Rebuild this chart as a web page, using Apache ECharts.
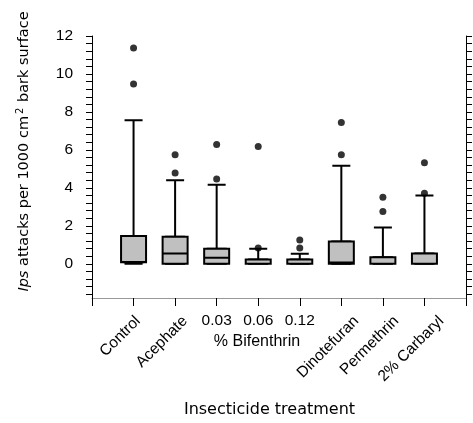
<!DOCTYPE html>
<html><head><meta charset="utf-8">
<script src="https://cdn.jsdelivr.net/npm/echarts@6/dist/echarts.min.js"></script>
<style>html,body{margin:0;padding:0;background:#fff}#c{width:473px;height:423px}</style>
</head><body><div id="c"></div>
<script>
// ---- data ----
const categories = ['Control','Acephate','0.03','0.06','0.12','Dinotefuran','Permethrin','2% Carbaryl'];
const rotatedLabels = ['Control','Acephate','','','','Dinotefuran','Permethrin','2% Carbaryl'];
const doseLabels = ['','','0.03','0.06','0.12','','',''];
const whiskerMin = [0, 0, 0, 0, 0, 0, 0, 0];
const q1 =         [0.08, 0, 0, 0, 0, 0, 0, 0];
const medians =    [0.1, 0.54, 0.32, 0, 0, 0.07, 0, 0];
const q3 =         [1.46, 1.42, 0.79, 0.23, 0.23, 1.18, 0.35, 0.54];
const whiskerMax = [7.56, 4.40, 4.16, 0.79, 0.53, 5.16, 1.91, 3.60];
const outliers = [[11.37, 9.47], [5.75, 4.79], [6.28, 4.47], [6.18, 0.84], [1.26, 0.84], [7.44, 5.74], [3.51, 2.75], [5.32, 3.72]];
const yTickLabels = [0, 2, 4, 6, 8, 10, 12];
const yTicks = [-1.6,-1.2,-0.8,-0.4,0,0.4,0.8,1.2,1.6,2,2.4,2.8,3.2,3.6,4,4.4,4.8,5.2,5.6,6,6.4,6.8,7.2,7.6,8,8.4,8.8,9.2,9.6,10,10.4,10.8,11.2,11.6,12];
const yMin = -1.8, yMax = 12;
const xMin = 0, xMax = 9;

// ---- build ----
const whiskerData = categories.map((c, i) => [i + 1, whiskerMin[i], q1[i], medians[i], q3[i], whiskerMax[i]]);
const boxData = categories.map((c, i) => [i + 1, q1[i], q1[i], medians[i], q3[i], q3[i]]);
const outlierData = [];
outliers.forEach((arr, i) => arr.forEach(v => outlierData.push([i + 1, v])));

const FONT = 'Liberation Sans';
const LABEL_SIZE = 15.5;

// Rotated labels: the bounding box of each rotated label is centred a little left of its tick
// and its top sits at a fixed distance under the axis line (as in the reference figure).
const ROT_MARGIN = 20;       // anchor distance below axis line
const BOX_TOP = 16.5;        // top of rotated label bounding box below axis line
const CENTER_DX = -13.3;     // horizontal offset of label box centre from tick
const INK_H = 12;
const ctx = document.createElement('canvas').getContext('2d');
ctx.font = LABEL_SIZE + 'px "' + FONT + '"';
const rich = {};
rotatedLabels.forEach((lab, i) => {
  if (!lab) return;
  const L = ctx.measureText(lab).width;
  const dy = BOX_TOP + 0.3536 * (L + INK_H) - ROT_MARGIN;
  const dx = CENTER_DX;
  const u = (dx - dy) / Math.SQRT2;   // along text direction
  const v = (dx + dy) / Math.SQRT2;   // perpendicular (text "down")
  const pad = [v > 0 ? 2 * v : 0, u < 0 ? -2 * u : 0, v < 0 ? -2 * v : 0, u > 0 ? 2 * u : 0];
  rich['r' + i] = {fontFamily: FONT, fontSize: LABEL_SIZE, color: '#000', padding: pad};
});

const chart = echarts.init(document.getElementById('c'), null, {renderer: 'canvas'});
chart.setOption({
  animation: false,
  backgroundColor: '#fff',
  grid: {left: 92, right: 7, top: 36, bottom: 124, containLabel: false},
  xAxis: [{
    type: 'value', min: xMin, max: xMax, interval: 1, position: 'bottom',
    axisLine: {show: true, onZero: false, lineStyle: {color: '#999', width: 1}},
    axisTick: {show: true, inside: false, length: 8, lineStyle: {color: '#000', width: 1}},
    splitLine: {show: false},
    axisLabel: {
      rotate: 45, margin: ROT_MARGIN, align: 'center', verticalAlign: 'middle',
      color: '#000', fontFamily: FONT, fontSize: LABEL_SIZE, rich: rich,
      formatter: v => rotatedLabels[v - 1] ? '{r' + (v - 1) + '|' + rotatedLabels[v - 1] + '}' : ''
    },
    name: 'Insecticide treatment', nameLocation: 'middle', nameGap: 104,
    nameTextStyle: {fontFamily: 'DejaVu Sans', fontSize: 16, color: '#000', padding: [0, 19, 0, 0]}
  }, {
    type: 'value', min: xMin, max: xMax, interval: 1, position: 'bottom',
    axisLine: {show: false, onZero: false}, axisTick: {show: false}, splitLine: {show: false},
    axisLabel: {margin: 15, color: '#000', fontFamily: FONT, fontSize: LABEL_SIZE,
      formatter: v => doseLabels[v - 1] || ''},
    name: '% Bifenthrin', nameLocation: 'middle', nameGap: 36,
    nameTextStyle: {fontFamily: FONT, fontSize: 16, color: '#000', padding: [0, 44, 0, 0]}
  }],
  yAxis: [{
    type: 'value', min: yMin, max: yMax, position: 'left',
    axisLine: {show: true, onZero: false, lineStyle: {color: '#000', width: 1}},
    axisTick: {show: true, inside: false, length: 6, customValues: yTicks, lineStyle: {color: '#000'}},
    splitLine: {show: false},
    axisLabel: {customValues: yTickLabels, margin: 19, color: '#000', fontFamily: FONT, fontSize: LABEL_SIZE},
    name: '{i|Ips} attacks per 1000 cm{s|2} bark surface',
    nameLocation: 'middle', nameGap: 59,
    nameTextStyle: {fontFamily: 'DejaVu Sans', fontSize: 14.5, color: '#000', lineHeight: 18, padding: [0, 0, 0, 31],
      rich: {
        i: {fontFamily: 'DejaVu Sans', fontSize: 14.5, fontStyle: 'italic', color: '#000', lineHeight: 18},
        s: {fontFamily: 'DejaVu Sans', fontSize: 10, color: '#000', verticalAlign: 'top', lineHeight: 18, padding: [0, 1, 0, 2]}
      }}
  }, {
    type: 'value', min: yMin, max: yMax, position: 'right',
    axisLine: {show: true, onZero: false, lineStyle: {color: '#000', width: 1}},
    axisTick: {show: true, inside: false, length: 6, customValues: yTicks, lineStyle: {color: '#000'}},
    splitLine: {show: false},
    axisLabel: {show: false}
  }],
  series: [{
    type: 'boxplot', xAxisIndex: 1, yAxisIndex: 0, boxWidth: [18, 18],
    itemStyle: {color: '#c0c0c0', borderColor: '#000', borderWidth: 2},
    emphasis: {disabled: true},
    data: whiskerData
  }, {
    type: 'boxplot', xAxisIndex: 0, yAxisIndex: 0, boxWidth: [25, 25],
    itemStyle: {color: '#c0c0c0', borderColor: '#000', borderWidth: 2},
    emphasis: {disabled: true},
    data: boxData
  }, {
    type: 'scatter', xAxisIndex: 0, yAxisIndex: 0, symbol: 'circle', symbolSize: 7,
    itemStyle: {color: '#000'}, emphasis: {disabled: true},
    data: outlierData
  }]
});
</script></body></html>
